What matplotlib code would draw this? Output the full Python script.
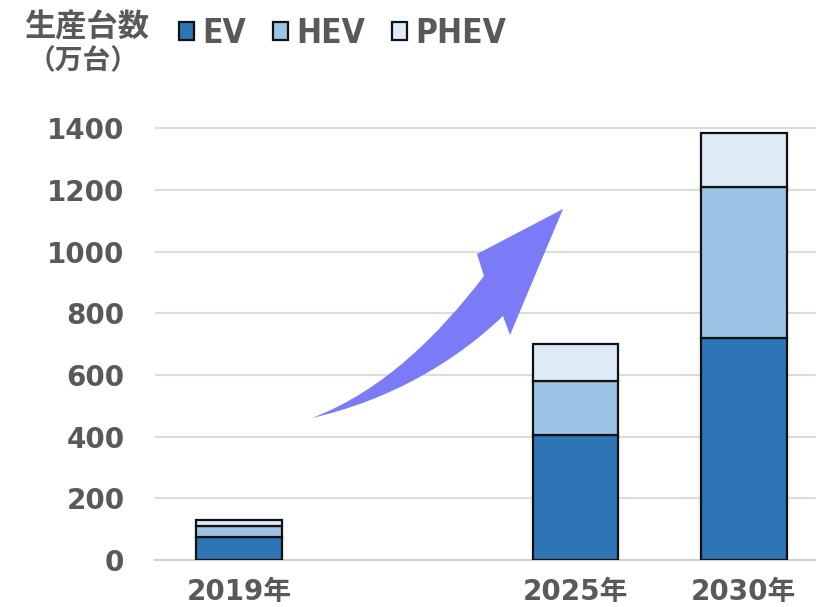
import matplotlib
matplotlib.use("Agg")
import matplotlib.pyplot as plt
from matplotlib.patches import Patch, PathPatch
from matplotlib.path import Path
from matplotlib.font_manager import FontProperties

plt.rcParams['font.family'] = ['Noto Sans CJK JP', 'DejaVu Sans']

# production volume (10k units) per powertrain
years = ["2019年", "2025年", "2030年"]
positions = [0, 2, 3]
ev = [75, 405, 720]
hev = [35, 175, 490]
phev = [20, 120, 175]
series = ["EV", "HEV", "PHEV"]
colors = ["#2e75b6", "#9dc3e6", "#deebf7"]
yticks = [0, 200, 400, 600, 800, 1000, 1200, 1400]

gray = "#595959"
W, H = 816, 607

fig = plt.figure(figsize=(8.16, 6.07), dpi=100)
ax = fig.add_axes([155 / W, 47 / H, 661 / W, 450 / H])

bottom = [0, 0, 0]
for vals, col in zip([ev, hev, phev], colors):
    ax.bar(positions, vals, width=0.51, bottom=bottom, color=col,
           edgecolor="#111111", linewidth=1.6, zorder=3)
    bottom = [a + v for a, v in zip(bottom, vals)]

ax.set_xlim(-0.5, 3.43)
ax.set_ylim(0, 1460)
ax.set_yticks(yticks)
ax.set_xticks(positions)
ax.set_xticklabels(years)
ax.grid(axis="y", color="#dcdcdc", linewidth=1.5, zorder=0)
for s in ["top", "right", "left"]:
    ax.spines[s].set_visible(False)
ax.spines["bottom"].set_color("#d0d0d0")
ax.spines["bottom"].set_linewidth(1.5)
ax.tick_params(axis="y", length=0, pad=22, labelsize=20, labelcolor=gray)
ax.tick_params(axis="x", length=0, pad=13, labelsize=20, labelcolor=gray)
for t in ax.get_yticklabels():
    t.set_fontfamily("DejaVu Sans")
    t.set_fontweight("bold")
for t in ax.get_xticklabels():
    t.set_fontfamily(["DejaVu Sans", "Noto Sans CJK JP"])
    t.set_fontweight("bold")


# curved growth arrow, outline given in pixels (y measured from the top)
def fp(x, y):
    return (x / W, 1 - y / H)


outline = [
    ((312, 418), Path.MOVETO),
    ((385, 390), Path.CURVE4), ((440, 333), Path.CURVE4), ((484, 276), Path.CURVE4),
    ((477, 254), Path.LINETO),
    ((563, 209), Path.LINETO),
    ((510, 335), Path.LINETO),
    ((503, 316), Path.LINETO),
    ((455, 362), Path.CURVE4), ((390, 400), Path.CURVE4), ((312, 418), Path.CURVE4),
    ((312, 418), Path.CLOSEPOLY),
]
arrow_path = Path([fp(*p) for p, _ in outline], [c for _, c in outline])
fig.patches.append(PathPatch(arrow_path, transform=fig.transFigure,
                             facecolor="#7b7bf7", edgecolor="none", zorder=5))

# unit label and legend
fig.text(87 / W, 1 - 27 / H, "生産台数", fontsize=22.5, fontweight="bold",
         color=gray, va="center", ha="center")
fig.text(83 / W, 1 - 61 / H, "（万台）", fontsize=20, fontweight="bold",
         color=gray, va="center", ha="center")
handles = [Patch(facecolor=c, edgecolor="#111111", linewidth=1.6) for c in colors]
legend_font = FontProperties(family="DejaVu Sans", size=24, weight="bold",
                             stretch="condensed")
fig.legend(handles, series, loc="upper left", bbox_to_anchor=(149 / W, 1 + 13 / H),
           ncol=3, frameon=False, handlelength=0.45, handleheight=0.45,
           handletextpad=0.25, columnspacing=0.8,
           prop=legend_font, labelcolor=gray)

fig.savefig("out.png", dpi=100)
